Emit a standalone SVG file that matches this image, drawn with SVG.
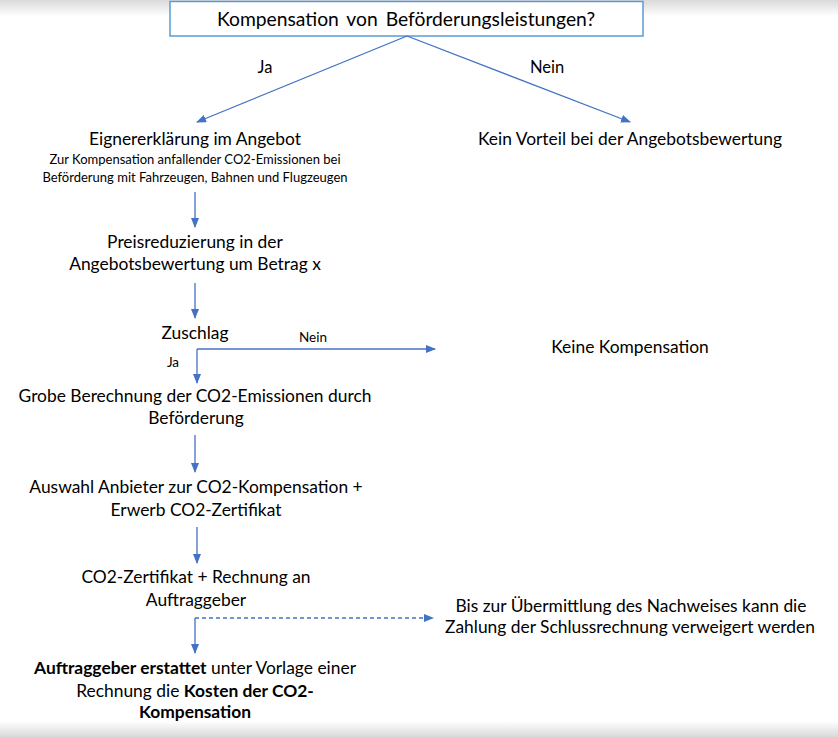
<svg xmlns="http://www.w3.org/2000/svg" width="838" height="737" viewBox="0 0 838 737">
<defs>
<linearGradient id="gt" x1="0" y1="0" x2="0" y2="1"><stop offset="0" stop-color="#d9d9db"/><stop offset="1" stop-color="#ffffff"/></linearGradient>
<linearGradient id="gb" x1="0" y1="0" x2="0" y2="1"><stop offset="0" stop-color="#ffffff"/><stop offset="1" stop-color="#d9d9db"/></linearGradient>
<marker id="ah" markerWidth="10" markerHeight="8" refX="9" refY="4" orient="auto" markerUnits="userSpaceOnUse"><path d="M0,0 L10,4 L0,8 Z" fill="#4472c4"/></marker>
</defs>
<style>
text{font-family:Lato,"Open Sans","Liberation Sans",sans-serif;fill:#000;text-anchor:middle}
.l{font-size:17.4px}
.j{font-size:16.5px}
.s{font-size:13px}
.t{font-size:19.3px;word-spacing:3px}
.lab{font-size:13.5px}
.c{fill:none;stroke:#4472c4;stroke-width:1.3}
.d{stroke-dasharray:4 3}
.b{font-weight:bold}
</style>
<rect x="0" y="0" width="838" height="16" fill="url(#gt)"/>
<rect x="0" y="721" width="838" height="16" fill="url(#gb)"/>
<g id="n-top"><rect x="170" y="1.5" width="473" height="34.5" fill="#fff" stroke="#5b9bd5" stroke-width="1.5"/><text class="t" x="406" y="26">Kompensation von Beförderungsleistungen?</text></g>
<g id="connectors">
<path class="c" d="M407,36 L197,122" marker-end="url(#ah)"/>
<path class="c" d="M407,36 L630,122" marker-end="url(#ah)"/>
<path class="c" d="M195,192 L195,227" marker-end="url(#ah)"/>
<path class="c" d="M195,283 L195,318" marker-end="url(#ah)"/>
<path class="c" d="M197,349 L197,383" marker-end="url(#ah)"/>
<path class="c" d="M197,349 L435,349" marker-end="url(#ah)"/>
<path class="c" d="M195,435 L195,472" marker-end="url(#ah)"/>
<path class="c" d="M197,527 L197,563" marker-end="url(#ah)"/>
<path class="c d" d="M195,618 L433,618" marker-end="url(#ah)"/>
<path class="c" d="M195,618 L195,653" marker-end="url(#ah)"/>
<text class="j" x="265" y="73">Ja</text>
<text class="j" x="547" y="73">Nein</text>
<text class="lab" x="313" y="342">Nein</text>
<text class="lab" x="173" y="367">Ja</text>
</g>
<g id="n-eigner"><text class="l" x="195" y="145">Eignererklärung im Angebot</text><text class="s" x="195" y="164">Zur Kompensation anfallender CO2-Emissionen bei</text><text class="s" x="195" y="182">Beförderung mit Fahrzeugen, Bahnen und Flugzeugen</text></g>
<g id="n-kein-vorteil"><text class="l" x="630" y="145">Kein Vorteil bei der Angebotsbewertung</text></g>
<g id="n-preis"><text class="l" x="195" y="248">Preisreduzierung in der</text><text class="l" x="195" y="270">Angebotsbewertung um Betrag x</text></g>
<g id="n-zuschlag"><text class="l" x="195" y="339">Zuschlag</text></g>
<g id="n-keine-komp"><text class="l" x="630" y="353">Keine Kompensation</text></g>
<g id="n-grobe"><text class="l" x="195" y="402">Grobe Berechnung der CO2-Emissionen durch</text><text class="l" x="196" y="424">Beförderung</text></g>
<g id="n-auswahl"><text class="l" x="196" y="493">Auswahl Anbieter zur CO2-Kompensation +</text><text class="l" x="196" y="516">Erwerb CO2-Zertifikat</text></g>
<g id="n-zert"><text class="l" x="196" y="583">CO2-Zertifikat + Rechnung an</text><text class="l" x="196" y="606">Auftraggeber</text></g>
<g id="n-bis"><text class="l" x="631" y="612">Bis zur Übermittlung des Nachweises kann die</text><text class="l" x="630" y="633">Zahlung der Schlussrechnung verweigert werden</text></g>
<g id="n-erstattet"><text class="l" x="195" y="674"><tspan class="b">Auftraggeber erstattet</tspan> unter Vorlage einer</text><text class="l" x="195" y="697">Rechnung die <tspan class="b">Kosten der CO2-</tspan></text><text class="l b" x="195" y="718">Kompensation</text></g>
</svg>
